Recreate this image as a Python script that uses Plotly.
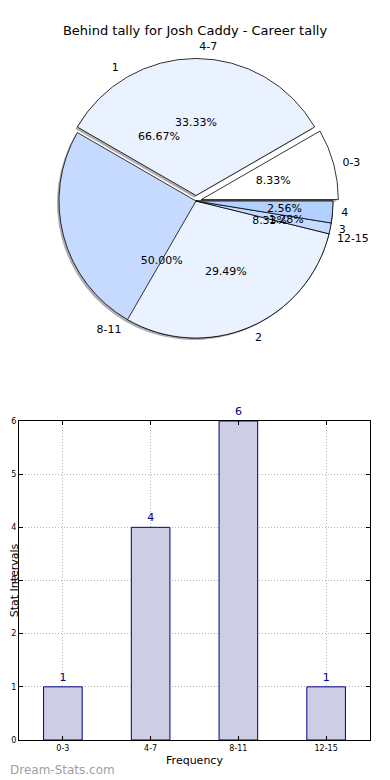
import plotly.graph_objects as go

# ---------------- data ----------------
title_text = "Behind tally for Josh Caddy - Career tally"
interval_labels = ["0-3", "4-7", "8-11", "12-15"]
interval_counts = [1, 4, 6, 1]
tally_labels = ["1", "2", "3", "4"]
tally_counts = [52, 23, 1, 2]
y_ticks = [0, 1, 2, 3, 4, 5, 6]

# ---------------- styling ----------------
W, H = 390, 780
OFF = 8  # page body margin: figure is drawn 8px right/down of the window corner
FONT = "DejaVu Sans"
interval_colors = ["#ffffff", "#ebf2ff", "#c6daff", "#b3d1ff"]
tally_colors = ["rgba(0,0,0,0)", "#ebf2ff", "#c6daff", "#b3d1ff"]
tally_line_colors = ["rgba(0,0,0,0)", "#000000", "#000000", "#000000"]
interval_pull = [0.04, 0.04, 0, 0]
tally_pull = [0.04, 0, 0, 0]
clear4 = ["rgba(0,0,0,0)"] * 4
SMALL_SHARE = 0.10   # slices below this share get their % text on an inner ring

# pie placement (window pixels -> paper)
cx, cy, half = 196 - OFF, 201 - OFF, 142.5


def dom(dx=0, dy=0, scale=1.0):
    h = half * scale
    return dict(
        x=[(cx - h + dx) / W, (cx + h + dx) / W],
        y=[1 - (cy + h + dy) / H, 1 - (cy - h + dy) / H],
    )


def start_at_three(vals):
    # plotly (counterclockwise) puts the first slice ending at the rotation line;
    # make the first slice start at 3 o'clock like the reference
    return 90 - 360.0 * vals[0] / sum(vals)


def pct_templates(vals, want_small):
    tot = float(sum(vals))
    out = []
    for v in vals:
        small = v / tot < SMALL_SHARE
        out.append("%{percent:.2%}" if small == want_small else "")
    return out


rot_interval = start_at_three(interval_counts)
rot_tally = start_at_three(tally_counts)

common = dict(sort=False, direction="counterclockwise",
              showlegend=False, hoverinfo="skip")

fig = go.Figure()

# shadow
fig.add_trace(go.Pie(labels=interval_labels, values=interval_counts, pull=interval_pull,
                     rotation=rot_interval,
                     domain=dom(-2, 2), marker=dict(colors=["rgba(110,110,110,0.55)"] * 4,
                                                    line=dict(width=0)),
                     textinfo="none", **common))
# interval pie fills
fig.add_trace(go.Pie(labels=interval_labels, values=interval_counts, pull=interval_pull,
                     rotation=rot_interval,
                     domain=dom(), marker=dict(colors=interval_colors,
                                               line=dict(color="#000000", width=0.8)),
                     textinfo="none", **common))
# tally pie fills
fig.add_trace(go.Pie(labels=tally_labels, values=tally_counts, pull=tally_pull,
                     rotation=rot_tally,
                     domain=dom(), marker=dict(colors=tally_colors,
                                               line=dict(color=tally_line_colors, width=0.8)),
                     textinfo="none", **common))

groups = [(interval_labels, interval_counts, interval_pull, rot_interval),
          (tally_labels, tally_counts, tally_pull, rot_tally)]

# percent texts (inside): large slices on full radius, small slices on an inner ring
for labs, vals, pull, rot in groups:
    for want_small, scale in [(False, 1.0), (True, 0.70)]:
        fig.add_trace(go.Pie(labels=labs, values=vals, pull=pull, rotation=rot,
                             domain=dom(scale=scale),
                             marker=dict(colors=clear4, line=dict(width=0)),
                             texttemplate=pct_templates(vals, want_small),
                             textposition="inside", insidetextorientation="horizontal",
                             insidetextfont=dict(family=FONT, size=11, color="#000000"),
                             **common))
# category labels (outside), on a slightly larger invisible ring
for labs, vals, pull, rot in groups:
    fig.add_trace(go.Pie(labels=labs, values=vals, pull=pull, rotation=rot,
                         domain=dom(scale=1.04),
                         marker=dict(colors=clear4, line=dict(width=0)),
                         textinfo="label", textposition="outside",
                         outsidetextfont=dict(family=FONT, size=11, color="#000000"),
                         **common))

# bar chart
fig.add_trace(go.Bar(x=interval_labels, y=interval_counts, width=0.44,
                     marker=dict(color="#cdcde6", line=dict(color="#000080", width=1)),
                     text=interval_counts, textposition="outside", cliponaxis=False,
                     textfont=dict(family=FONT, size=11, color="#000080"),
                     showlegend=False, hoverinfo="skip"))

fig.update_layout(
    width=W, height=H,
    margin=dict(l=0, r=0, t=0, b=0),
    paper_bgcolor="white", plot_bgcolor="white",
    font=dict(family=FONT, size=11, color="#000000"),
    uniformtext=dict(minsize=11, mode="show"),
    title=dict(text=title_text, x=(195 - OFF) / W, xanchor="center",
               y=1 - (30 - OFF) / H, yanchor="middle",
               font=dict(family=FONT, size=13, color="#000000")),
    xaxis=dict(domain=[(19 - OFF) / W, (370 - OFF) / W], range=[-0.5, 3.5], type="category",
               automargin=False,
               showline=True, linecolor="#000000", linewidth=1, mirror="ticks",
               ticks="inside", ticklen=4, tickcolor="#000000",
               showgrid=True, gridcolor="#b4b4b4", griddash="1px,2px", gridwidth=1,
               tickfont=dict(family=FONT, size=8), zeroline=False,
               title=dict(text="Frequency", font=dict(family=FONT, size=11), standoff=4)),
    yaxis=dict(domain=[1 - (740 - OFF) / H, 1 - (421 - OFF) / H], range=[0, 6],
               tickvals=y_ticks, automargin=False,
               showline=True, linecolor="#000000", linewidth=1, mirror="ticks",
               ticks="inside", ticklen=4, tickcolor="#000000",
               showgrid=True, gridcolor="#b4b4b4", griddash="1px,2px", gridwidth=1,
               tickfont=dict(family=FONT, size=8), zeroline=False,
               title=dict(text="Stat Intervals", font=dict(family=FONT, size=11), standoff=0)),
    annotations=[dict(text="Dream-Stats.com", xref="paper", yref="paper",
                      x=0, y=1 - (770 - OFF) / H, xanchor="left", yanchor="middle",
                      showarrow=False,
                      font=dict(family=FONT, size=12, color="#a0a0a0"))],
)

fig.write_html("out.html")
